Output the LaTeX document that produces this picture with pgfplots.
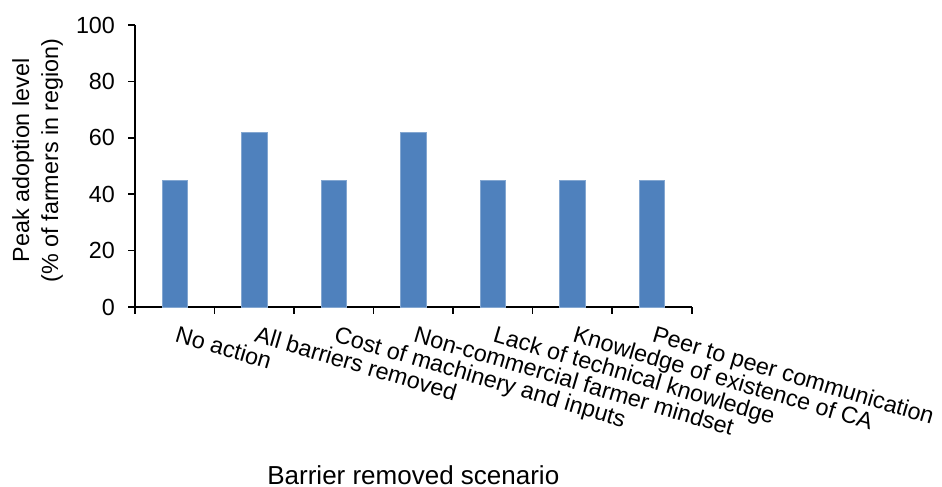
\documentclass[border=0pt]{standalone}
\usepackage{fontspec}
\setmainfont{Liberation Sans}
\usepackage{pgfplots}
\pgfplotsset{compat=1.18}
\definecolor{barblue}{HTML}{4F81BD}
\begin{document}
\begin{tikzpicture}
\begin{axis}[
  at={(0,0)}, anchor=south west,
  width=417.5pt, height=211.5pt, scale only axis,
  xmin=-0.5, xmax=6.5, ymin=0, ymax=100,
  axis x line*=bottom, axis y line*=left,
  axis line style={black, line width=1.3pt},
  ytick={0,20,...,100},
  xtick={-0.5,0.5,...,6.5},
  x tick label as interval,
  xticklabels={No action,All barriers removed,Cost of machinery and inputs,Non-commercial farmer mindset,Lack of technical knowledge,Knowledge of existence of CA,Peer to peer communication},
  tick align=outside,
  major tick length=5pt,
  tick style={black, line width=1.3pt},
  /pgf/number format/assume math mode=true,
  yticklabel style={font=\fontsize{17.5}{20}\selectfont, xshift=-6.5pt},
  xticklabel style={font=\fontsize{17.5}{20}\selectfont, xshift=3pt, yshift=-8.5pt, anchor=north west, rotate=-16.5, inner sep=0pt},
  ylabel={Peak adoption level\\(\% of farmers in region)},
  ylabel style={at={(axis description cs:-0.175,0.52)}, anchor=center, align=center, font=\fontsize{17.5}{21.75}\selectfont},
  xlabel={Barrier removed scenario},
  xlabel style={at={(axis description cs:0.5,0)}, anchor=center, yshift=-126pt, font=\fontsize{19.5}{22}\selectfont},
  clip=false,
]
\addplot[ybar, bar width=19pt, fill=barblue, draw=barblue!70!white, line width=0.4pt] coordinates {
  (0,45) (1,62) (2,45) (3,62) (4,45) (5,45) (6,45)
};
\end{axis}
\pgfresetboundingbox
\path[use as bounding box] (-101.25pt,-134.25pt) rectangle (605.25pt,230.25pt);
\end{tikzpicture}
\end{document}
